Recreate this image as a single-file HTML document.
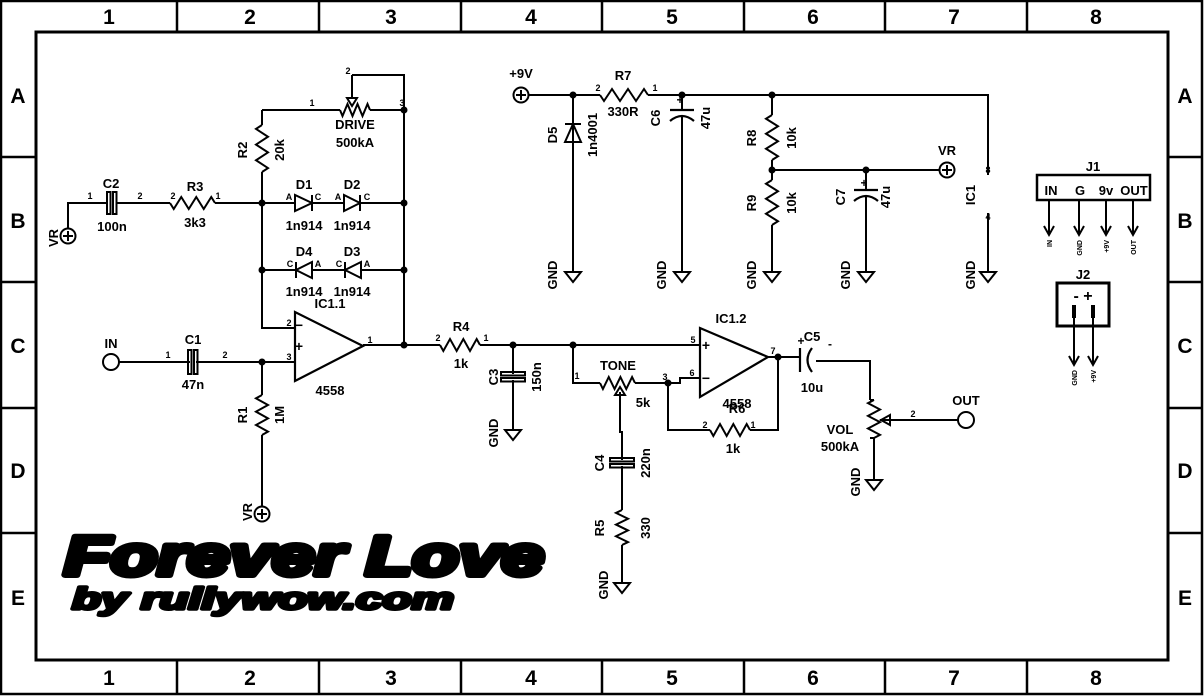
<!DOCTYPE html>
<html><head><meta charset="utf-8"><style>
html,body{margin:0;padding:0;background:#fff;}
svg{display:block;font-family:"Liberation Sans",sans-serif;font-weight:bold;}
.t{font-size:13px;text-anchor:middle;}
.s{font-size:9px;text-anchor:middle;}
.b{font-size:21px;text-anchor:middle;font-weight:bold;}
</style></head><body>
<svg id="g" width="1204" height="696" viewBox="0 0 1204 696" xmlns="http://www.w3.org/2000/svg">
<g fill="none" stroke="#000" stroke-width="2.5">
<rect x="1" y="1" width="1201" height="693"/>
<rect x="36" y="32" width="1132" height="628" stroke-width="3"/>
<path d="M177 1V32M319 1V32M461 1V32M602 1V32M744 1V32M885 1V32M1027 1V32M177 660V694M319 660V694M461 660V694M602 660V694M744 660V694M885 660V694M1027 660V694M1 157H36M1 282H36M1 408H36M1 533H36M1168 157H1202M1168 282H1202M1168 408H1202M1168 533H1202"/>
</g>
<g class="b">
<text x="109" y="24">1</text><text x="250" y="24">2</text><text x="391" y="24">3</text><text x="531" y="24">4</text><text x="672" y="24">5</text><text x="813" y="24">6</text><text x="954" y="24">7</text><text x="1096" y="24">8</text>
<text x="109" y="685">1</text><text x="250" y="685">2</text><text x="391" y="685">3</text><text x="531" y="685">4</text><text x="672" y="685">5</text><text x="813" y="685">6</text><text x="954" y="685">7</text><text x="1096" y="685">8</text>
<text x="18" y="103">A</text><text x="18" y="228">B</text><text x="18" y="353">C</text><text x="18" y="478">D</text><text x="18" y="605">E</text>
<text x="1185" y="103">A</text><text x="1185" y="228">B</text><text x="1185" y="353">C</text><text x="1185" y="478">D</text><text x="1185" y="605">E</text>
</g>
<g id="w" fill="none" stroke="#000" stroke-width="2">
<path d="M68 229V203H108M116 203H170M215 203H262"/>
<path d="M262 110V125M262 172V328H295"/>
<path d="M262 110H340M370 110H404M352 75H404V345M352 75V98"/>
<path d="M262 203H295M312 203H344M360 203H404M262 270H296M312 270H345M361 270H404"/>
<path d="M119 362H190M196 362H295M262 362V395M262 435V507"/>
<path d="M363 345H440M480 345H700"/>
<path d="M513 345V374M513 380V430"/>
<path d="M573 345V383H600M635 383H680V378H700M668 383V430H710M750 430H778V357M768 357H800"/>
<path d="M620 392V432H622V460M622 466V510M622 545V583"/>
<path d="M816 361H870V400M874 438V480M874 400H870M874 438H870" />
<path d="M880 420H958"/>
<path d="M529 95H600M648 95H988V175M573 95V272M682 95V110M682 116V272M772 95V115M772 160V180M772 170H939M866 170V190M866 196V272M772 225V272M988 213V272"/>
</g>
<g fill="none" stroke="#000" stroke-width="2">
<rect x="107" y="192" width="3.5" height="22"/><rect x="113" y="192" width="3.5" height="22"/>
<rect x="188" y="350" width="3.5" height="24"/><rect x="194" y="350" width="3.5" height="24"/>
<rect x="501" y="372" width="24" height="3.5"/><rect x="501" y="378" width="24" height="3.5"/>
<rect x="610" y="458" width="24" height="3.5"/><rect x="610" y="464" width="24" height="3.5"/>
<path d="M670 110H694M670 121Q682 111 694 121M854 190H878M854 201Q866 191 878 201M800 348V372M812 348Q803 360 812 372" stroke-width="2.2"/>
<path d="M295 312V381L363 346Z M700 328V397L768 357Z" stroke-width="2.2"/>
<path d="M295 195V211L312 203ZM312 195V211M344 195V211L360 203ZM360 195V211M312 262V278L296 270ZM296 262V278M361 262V278L345 270ZM345 262V278M565 142H581L573 124ZM565 124H581"/>
<circle cx="68" cy="236" r="7.5"/><circle cx="262" cy="514" r="7.5"/><circle cx="521" cy="95" r="7.5"/><circle cx="947" cy="170" r="7.5"/>
<circle cx="111" cy="362" r="8"/><circle cx="966" cy="420" r="8"/>
<path d="M63 236H73M68 231V241M257 514H267M262 509V519M516 95H526M521 90V100M942 170H952M947 165V175"/>
<path d="M347 98H357L352 106ZM615 395H625L620 387ZM890 415V425L881 420Z"/>
<rect x="1037" y="175" width="113" height="25" stroke-width="2.5"/>
<rect x="1057" y="283" width="52" height="43" stroke-width="3"/>
<path d="M1049 200V235M1044 226L1049 235L1054 226M1079 200V235M1074 226L1079 235L1084 226M1106 200V235M1101 226L1106 235L1111 226M1133 200V235M1128 226L1133 235L1138 226M1074 308V365M1069 356L1074 365L1079 356M1093 308V365M1088 356L1093 365L1098 356"/>
<path d="M1074 305V318M1093 305V318" stroke-width="4"/>
</g>
<g id="z" fill="none" stroke="#000" stroke-width="2"></g>
<g id="gn" fill="none" stroke="#000" stroke-width="2"></g>
<g id="d"></g>
<g class="t">
<text x="111" y="188">C2</text><text x="112" y="231">100n</text><text x="195" y="191">R3</text><text x="195" y="227">3k3</text>
<text x="355" y="129">DRIVE</text><text x="355" y="147">500kA</text>
<text x="304" y="189">D1</text><text x="352" y="189">D2</text><text x="304" y="230">1n914</text><text x="352" y="230">1n914</text>
<text x="304" y="256">D4</text><text x="352" y="256">D3</text><text x="304" y="296">1n914</text><text x="352" y="296">1n914</text>
<text x="330" y="308">IC1.1</text><text x="330" y="395">4558</text>
<text x="111" y="348">IN</text><text x="193" y="344">C1</text><text x="193" y="389">47n</text>
<text x="461" y="331">R4</text><text x="461" y="368">1k</text>
<text x="618" y="370">TONE</text><text x="643" y="407">5k</text>
<text x="731" y="323">IC1.2</text><text x="737" y="408">4558</text><text x="737" y="413">R6</text><text x="733" y="453">1k</text>
<text x="812" y="341">C5</text><text x="812" y="392">10u</text>
<text x="840" y="434">VOL</text><text x="840" y="451">500kA</text><text x="966" y="405">OUT</text>
<text x="521" y="78">+9V</text><text x="623" y="80">R7</text><text x="623" y="116">330R</text>
<text x="947" y="155">VR</text><text x="1093" y="171">J1</text><text x="1083" y="279">J2</text>
<text x="1051" y="195">IN</text><text x="1080" y="195">G</text><text x="1106" y="195">9v</text><text x="1134" y="195">OUT</text>
<text x="1083" y="301" style="font-size:16px">- +</text>
</g>
<g class="t">
<text transform="translate(58,238) rotate(-90)">VR</text>
<text transform="translate(247,150) rotate(-90)">R2</text><text transform="translate(284,150) rotate(-90)">20k</text>
<text transform="translate(247,415) rotate(-90)">R1</text><text transform="translate(284,415) rotate(-90)">1M</text>
<text transform="translate(252,512) rotate(-90)">VR</text>
<text transform="translate(498,377) rotate(-90)">C3</text><text transform="translate(541,377) rotate(-90)">150n</text>
<text transform="translate(498,433) rotate(-90)">GND</text>
<text transform="translate(604,463) rotate(-90)">C4</text><text transform="translate(650,463) rotate(-90)">220n</text>
<text transform="translate(604,528) rotate(-90)">R5</text><text transform="translate(650,528) rotate(-90)">330</text>
<text transform="translate(608,585) rotate(-90)">GND</text>
<text transform="translate(860,482) rotate(-90)">GND</text>
<text transform="translate(557,135) rotate(-90)">D5</text><text transform="translate(597,135) rotate(-90)">1n4001</text>
<text transform="translate(660,118) rotate(-90)">C6</text><text transform="translate(710,118) rotate(-90)">47u</text>
<text transform="translate(756,138) rotate(-90)">R8</text><text transform="translate(796,138) rotate(-90)">10k</text>
<text transform="translate(756,203) rotate(-90)">R9</text><text transform="translate(796,203) rotate(-90)">10k</text>
<text transform="translate(845,197) rotate(-90)">C7</text><text transform="translate(890,197) rotate(-90)">47u</text>
<text transform="translate(975,195) rotate(-90)">IC1</text>
<text transform="translate(557,275) rotate(-90)">GND</text><text transform="translate(666,275) rotate(-90)">GND</text><text transform="translate(756,275) rotate(-90)">GND</text><text transform="translate(850,275) rotate(-90)">GND</text><text transform="translate(975,275) rotate(-90)">GND</text>
</g>
<g class="s">
<text x="90" y="199">1</text><text x="140" y="199">2</text><text x="173" y="199">2</text><text x="218" y="199">1</text>
<text x="312" y="106">1</text><text x="402" y="106">3</text><text x="348" y="74">2</text>
<text x="289" y="200">A</text><text x="318" y="200">C</text><text x="338" y="200">A</text><text x="367" y="200">C</text>
<text x="290" y="267">C</text><text x="318" y="267">A</text><text x="339" y="267">C</text><text x="367" y="267">A</text>
<text x="289" y="326">2</text><text x="289" y="360">3</text><text x="370" y="343">1</text>
<text x="168" y="358">1</text><text x="225" y="358">2</text>
<text x="438" y="341">2</text><text x="486" y="341">1</text>
<text x="577" y="379">1</text><text x="665" y="380">3</text><text x="693" y="343">5</text><text x="692" y="376">6</text><text x="773" y="354">7</text>
<text x="705" y="428">2</text><text x="753" y="428">1</text><text x="913" y="417">2</text>
<text x="598" y="91">2</text><text x="655" y="91">1</text>
<text x="988" y="173">8</text><text x="988" y="220">4</text>
<text x="299" y="351" style="font-size:14px">+</text><text x="299" y="330" style="font-size:14px">−</text>
<text x="706" y="350" style="font-size:14px">+</text><text x="706" y="383" style="font-size:14px">−</text>
<text x="801" y="345" style="font-size:12px">+</text><text x="830" y="348" style="font-size:12px">-</text>
<text x="680" y="104" style="font-size:12px">+</text><text x="864" y="187" style="font-size:12px">+</text>
<text transform="translate(1052,240) rotate(-90)" style="text-anchor:end;font-size:7px">IN</text>
<text transform="translate(1082,240) rotate(-90)" style="text-anchor:end;font-size:7px">GND</text>
<text transform="translate(1109,240) rotate(-90)" style="text-anchor:end;font-size:7px">+9V</text>
<text transform="translate(1136,240) rotate(-90)" style="text-anchor:end;font-size:7px">OUT</text>
<text transform="translate(1077,370) rotate(-90)" style="text-anchor:end;font-size:7px">GND</text>
<text transform="translate(1096,370) rotate(-90)" style="text-anchor:end;font-size:7px">+9V</text>
</g>
<text x="64" y="575" textLength="480" lengthAdjust="spacingAndGlyphs" style="font-size:56px;font-style:italic;font-weight:900" stroke="#000" stroke-width="6" stroke-linejoin="round">Forever Love</text>
<text x="72" y="609" textLength="382" lengthAdjust="spacingAndGlyphs" style="font-size:31px;font-style:italic;font-weight:900" stroke="#000" stroke-width="3.5" stroke-linejoin="round">by rullywow.com</text>
</svg>
<script>
var NS="http://www.w3.org/2000/svg";
function zz(x1,y1,x2,y2){var n=6,d="M"+x1+" "+y1,dx=(x2-x1)/n,dy=(y2-y1)/n,L=Math.hypot(x2-x1,y2-y1),px=-(y2-y1)/L*6,py=(x2-x1)/L*6;
for(var i=0;i<n;i++){var s=(i%2?-1:1);d+="L"+(x1+dx*(i+.5)+px*s)+" "+(y1+dy*(i+.5)+py*s);}d+="L"+x2+" "+y2;
var p=document.createElementNS(NS,"path");p.setAttribute("d",d);document.getElementById("z").appendChild(p);}
zz(170,203,215,203);zz(262,125,262,172);zz(340,110,370,110);zz(262,395,262,435);zz(440,345,480,345);
zz(600,383,635,383);zz(710,430,750,430);zz(622,510,622,545);zz(874,400,874,438);zz(600,95,648,95);
zz(772,115,772,160);zz(772,180,772,225);
function gnd(x,y){var p=document.createElementNS(NS,"path");p.setAttribute("d","M"+(x-8)+" "+y+"H"+(x+8)+"L"+x+" "+(y+10)+"Z");document.getElementById("gn").appendChild(p);}
[[513,430],[622,583],[874,480],[573,272],[682,272],[772,272],[866,272],[988,272]].forEach(function(a){gnd(a[0],a[1]);});
[[404,110],[404,203],[404,270],[404,345],[262,203],[262,270],[262,362],[513,345],[573,345],[668,383],[778,357],[573,95],[682,95],[772,95],[772,170],[866,170]].forEach(function(a){var c=document.createElementNS(NS,"circle");c.setAttribute("cx",a[0]);c.setAttribute("cy",a[1]);c.setAttribute("r",3.5);document.getElementById("d").appendChild(c);});
</script>
</body></html>
